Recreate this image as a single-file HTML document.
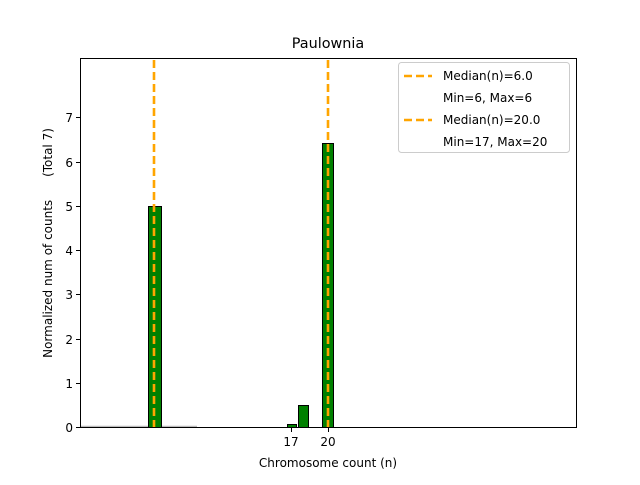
<!DOCTYPE html>
<html><head><style>body{margin:0;background:#fff}</style></head><body>
<svg width="640" height="480" xmlns="http://www.w3.org/2000/svg" font-family="'DejaVu Sans', sans-serif" font-size="12">
<rect width="640" height="480" fill="#fff"/>
<line x1="80" y1="426.5" x2="197" y2="426.5" stroke="#bbb" stroke-width="1.5"/>
<rect x="148.5" y="206.5" width="13" height="221" fill="#008000" stroke="#000" stroke-width="1"/>
<rect x="287.5" y="424.5" width="9" height="3" fill="#008000" stroke="#000" stroke-width="1"/>
<rect x="298.5" y="405.5" width="10" height="22" fill="#008000" stroke="#000" stroke-width="1"/>
<rect x="322.5" y="143.5" width="11" height="284" fill="#008000" stroke="#000" stroke-width="1"/>
<line x1="154" y1="60" x2="154" y2="427" stroke="#FFA500" stroke-width="2.6" stroke-dasharray="8,4"/>
<line x1="328" y1="60" x2="328" y2="427" stroke="#FFA500" stroke-width="2.6" stroke-dasharray="8,4"/>
<rect x="80.5" y="58.5" width="496" height="369" fill="none" stroke="#000" stroke-width="1"/>
<g stroke="#000">
<line x1="76" y1="427.5" x2="80" y2="427.5"/><line x1="76" y1="383.5" x2="80" y2="383.5"/>
<line x1="76" y1="339.5" x2="80" y2="339.5"/><line x1="76" y1="294.5" x2="80" y2="294.5"/>
<line x1="76" y1="250.5" x2="80" y2="250.5"/><line x1="76" y1="206.5" x2="80" y2="206.5"/>
<line x1="76" y1="162.5" x2="80" y2="162.5"/><line x1="76" y1="117.5" x2="80" y2="117.5"/>
<line x1="291.5" y1="428" x2="291.5" y2="432"/><line x1="328.5" y1="428" x2="328.5" y2="432"/>
</g>
<g text-anchor="end">
<text x="73" y="432">0</text><text x="73" y="388">1</text><text x="73" y="344">2</text>
<text x="73" y="299">3</text><text x="73" y="255">4</text><text x="73" y="211">5</text>
<text x="73" y="167">6</text><text x="73" y="122">7</text>
</g>
<text x="291" y="446" text-anchor="middle">17</text>
<text x="328" y="446" text-anchor="middle">20</text>
<text x="328" y="467" text-anchor="middle">Chromosome count (n)</text>
<text transform="translate(52,243) rotate(-90)" text-anchor="middle" xml:space="preserve" style="white-space:pre">Normalized num of counts      (Total 7)</text>
<text x="328" y="48" text-anchor="middle" font-size="14.4">Paulownia</text>
<rect x="398.5" y="62.5" width="171" height="90" rx="3" fill="#fff" fill-opacity="0.8" stroke="#ccc"/>
<line x1="404" y1="76" x2="432" y2="76" stroke="#FFA500" stroke-width="2.6" stroke-dasharray="8,4"/>
<line x1="404" y1="120" x2="432" y2="120" stroke="#FFA500" stroke-width="2.6" stroke-dasharray="8,4"/>
<text x="443" y="80">Median(n)=6.0</text>
<text x="443" y="102">Min=6, Max=6</text>
<text x="443" y="124">Median(n)=20.0</text>
<text x="443" y="146">Min=17, Max=20</text>
</svg>
</body></html>
